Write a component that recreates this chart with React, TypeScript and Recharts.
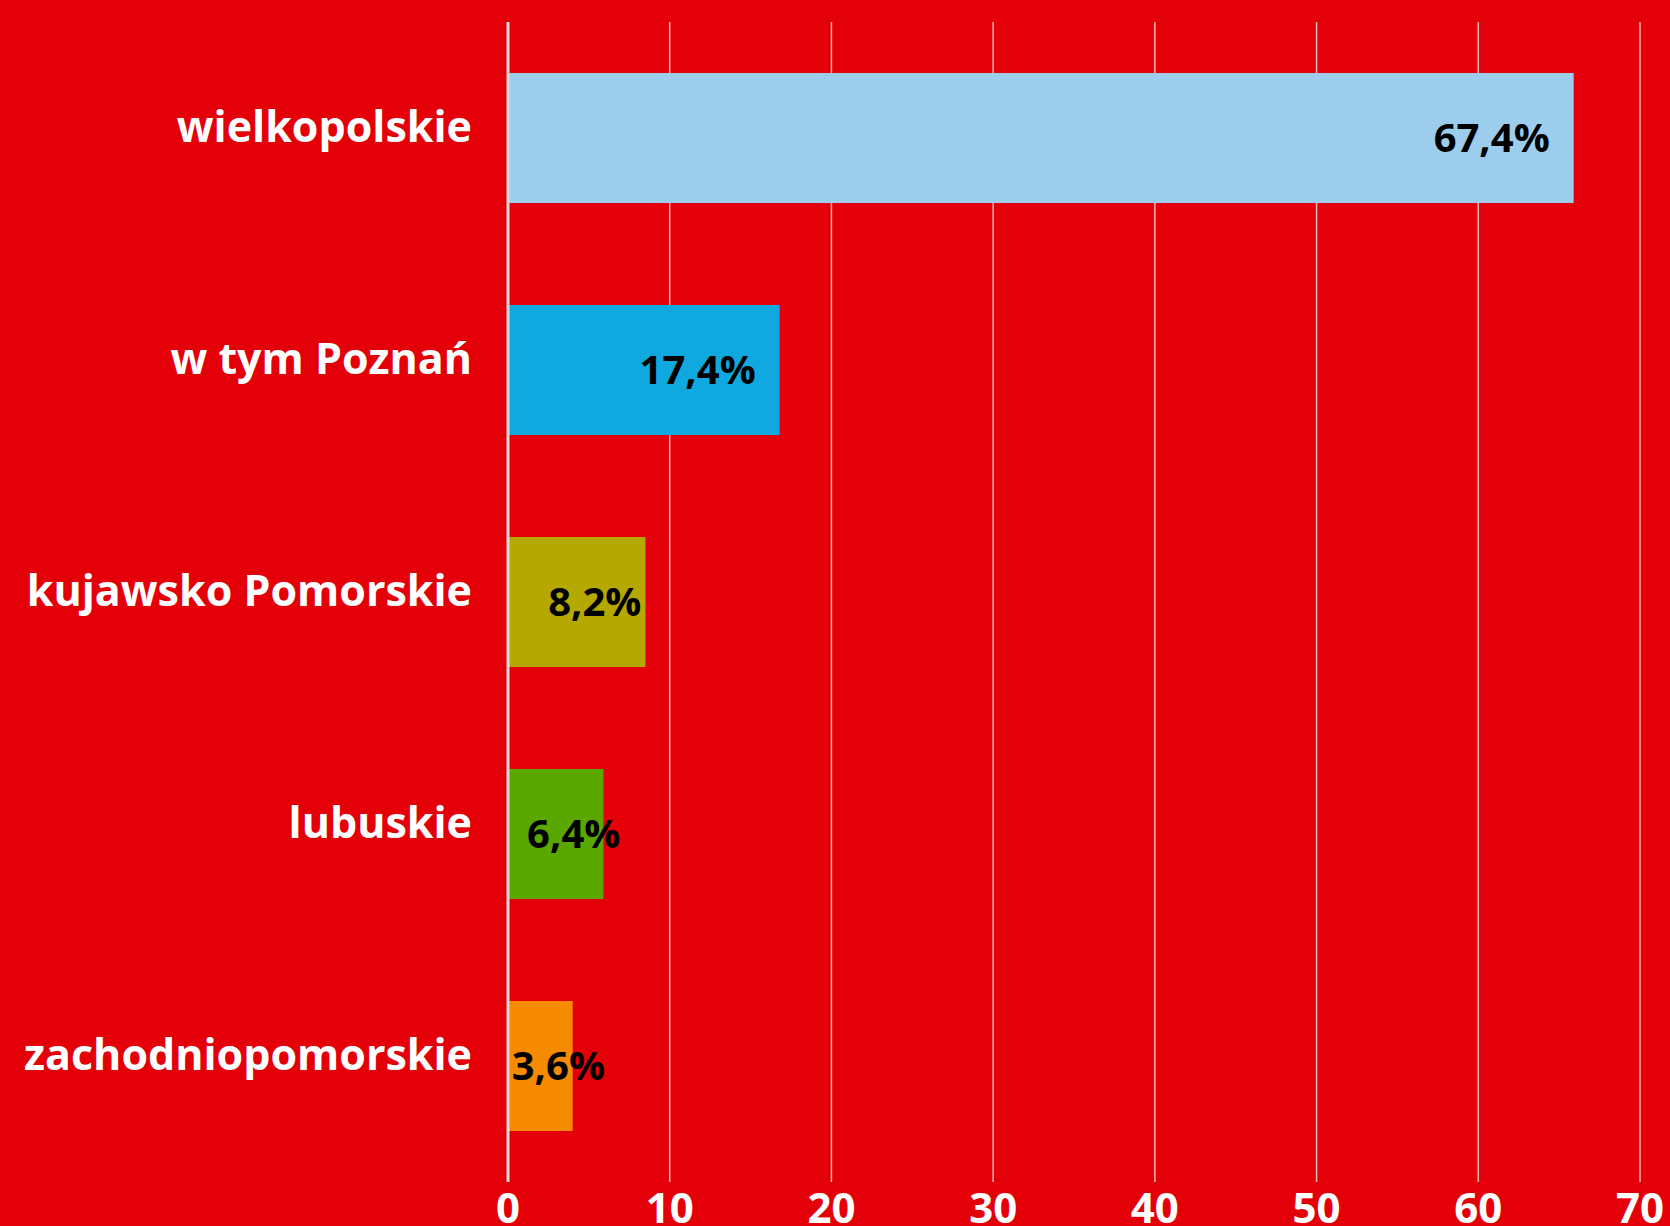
import { BarChart, Bar, XAxis, YAxis, CartesianGrid, Cell, LabelList } from "recharts";

const regions = ["wielkopolskie", "w tym Poznań", "kujawsko Pomorskie", "lubuskie", "zachodniopomorskie"];
const shares = [65.9, 16.8, 8.5, 5.9, 4.0];
const shareLabels = ["67,4%", "17,4%", "8,2%", "6,4%", "3,6%"];
const barColors = ["#9ccdec", "#10a9df", "#b5a900", "#5aa700", "#f78b00"];
const xTicks = [0, 10, 20, 30, 40, 50, 60, 70];

const data = regions.map((name, i) => ({ name, value: shares[i] }));

const FONT = "'Open Sans', 'DejaVu Sans', sans-serif";
const BG = "#e30008";

document.body.style.margin = "0";
document.body.style.background = BG;

// category names sit a little above the bar centre in the original
const RegionTick = (props: any) => {
  const { x, y, payload } = props;
  return (
    <text
      x={x}
      y={y - 11}
      dy="0.36em"
      textAnchor="end"
      fill="#ffffff"
      fontFamily={FONT}
      fontWeight={700}
      fontSize={43}
    >
      {payload.value}
    </text>
  );
};

const ShareLabel = (props: any) => {
  const { x, y, width, height, index } = props;
  const wide = width > 200;
  const tx = wide ? x + width - 24 : x + width / 2 + 18;
  return (
    <text
      x={tx}
      y={y + height / 2}
      dy="0.36em"
      textAnchor={wide ? "end" : "middle"}
      fill="#000000"
      fontFamily={FONT}
      fontWeight={700}
      fontSize={40}
    >
      {shareLabels[index]}
    </text>
  );
};

export default function App() {
  return (
    <div style={{ width: 1670, height: 1226, background: BG, overflow: "hidden" }}>
      <BarChart
        width={1670}
        height={1226}
        data={data}
        layout="vertical"
        margin={{ top: 22, right: 30, bottom: 0, left: 0 }}
        barCategoryGap="22%"
      >
        <CartesianGrid horizontal={false} stroke="#f0b8b8" strokeWidth={1.5} />
        <XAxis
          type="number"
          domain={[0, 70]}
          ticks={xTicks}
          axisLine={false}
          tickLine={false}
          tickSize={0}
          tickMargin={11}
          height={44}
          interval={0}
          tick={{ fill: "#ffffff", fontSize: 42, fontWeight: 700, fontFamily: FONT }}
        />
        <YAxis
          type="category"
          dataKey="name"
          width={508}
          axisLine={{ stroke: "#dcdcdc", strokeWidth: 3 }}
          tickLine={false}
          tickSize={0}
          tickMargin={36}
          interval={0}
          tick={<RegionTick />}
        />
        <Bar dataKey="value" isAnimationActive={false}>
          {data.map((d, i) => (
            <Cell key={d.name} fill={barColors[i]} />
          ))}
          <LabelList dataKey="value" content={<ShareLabel />} />
        </Bar>
      </BarChart>
    </div>
  );
}
